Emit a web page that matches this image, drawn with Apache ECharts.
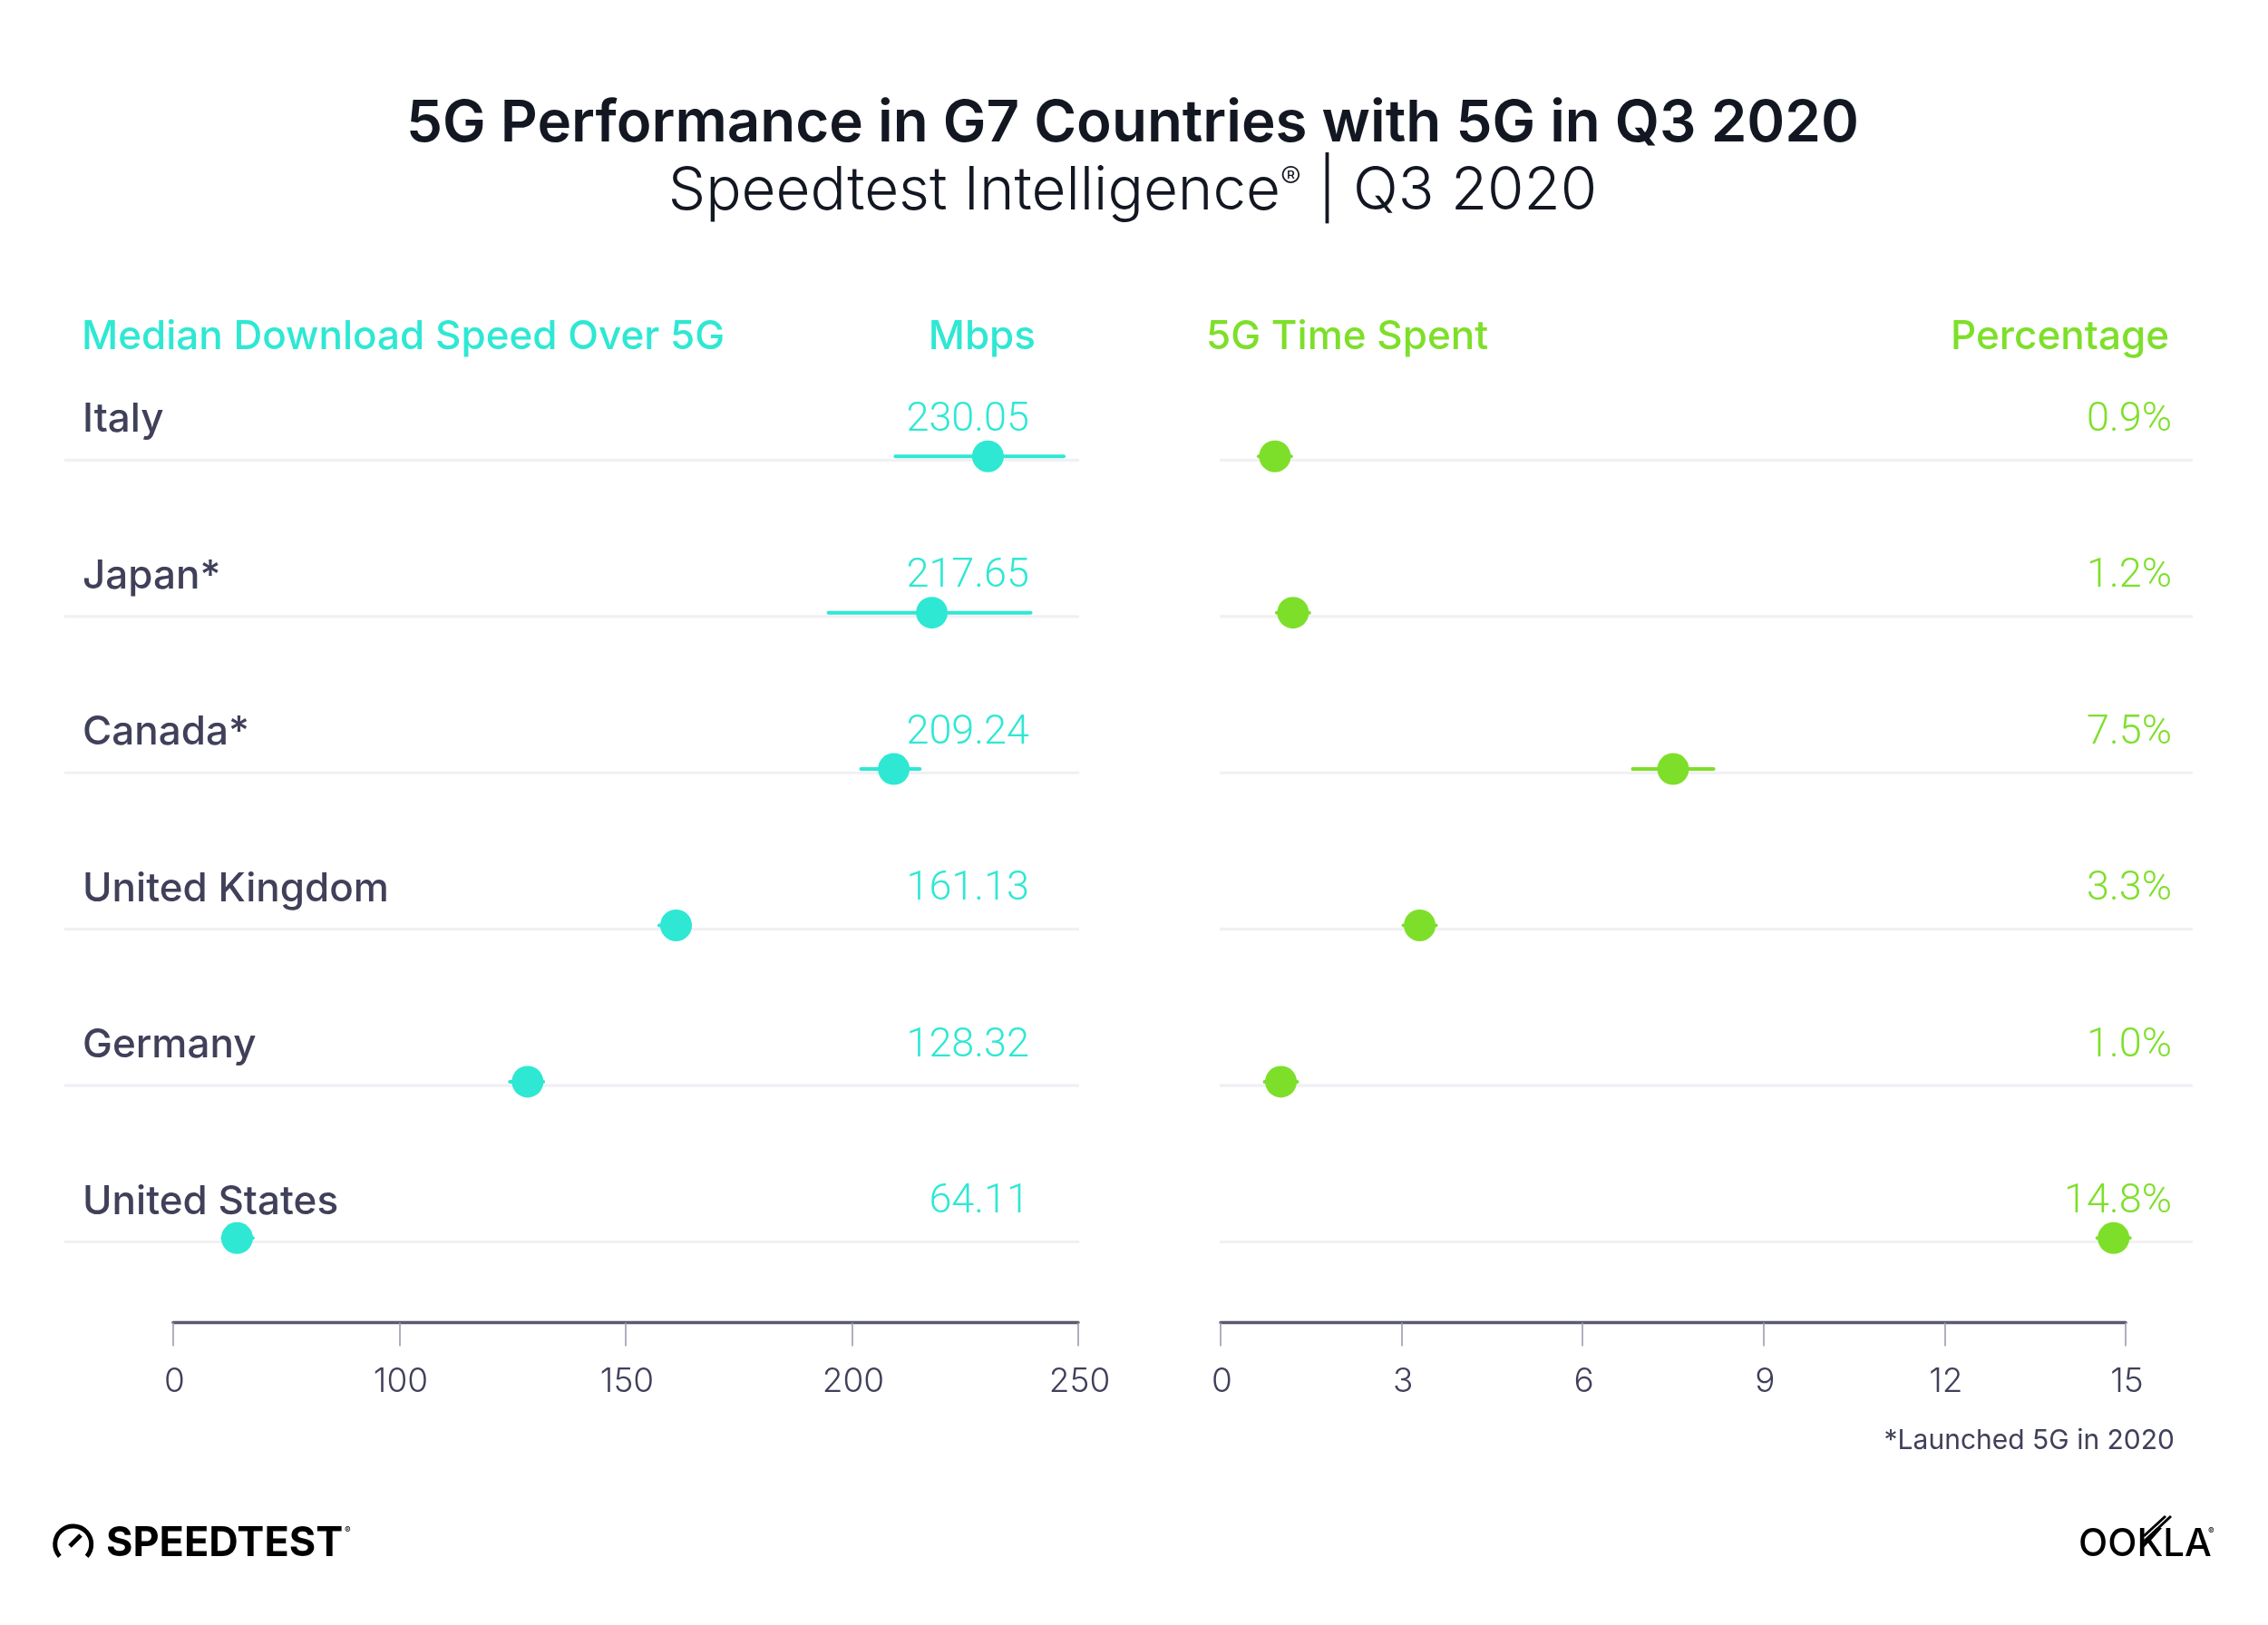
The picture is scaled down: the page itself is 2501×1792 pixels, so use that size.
<!DOCTYPE html>
<html>
<head>
<meta charset="utf-8">
<script src="https://cdn.jsdelivr.net/npm/echarts@6/dist/echarts.min.js"></script>
<style>html,body{margin:0;padding:0;background:#fff}#c{width:2501px;height:1792px}</style>
</head>
<body>
<div id="c"></div>
<script>
const countries = ["Italy", "Japan*", "Canada*", "United Kingdom", "Germany", "United States"];
const speedValues = [230.05, 217.65, 209.24, 161.13, 128.32, 64.11];
const speedLow = [209.2, 194.4, 201.6, 157.0, 124.0, 60.5];
const speedHigh = [247.2, 239.9, 215.4, 164.6, 132.2, 68.0];
const timeValues = [0.9, 1.2, 7.5, 3.3, 1.0, 14.8];
const timeLow = [0.6, 0.9, 6.8, 3.0, 0.7, 14.5];
const timeHigh = [1.2, 1.5, 8.2, 3.6, 1.3, 15.1];
const speedTickLabels = {50: "0", 100: "100", 150: "150", 200: "200", 250: "250"};
const timeTicks = [0, 3, 6, 9, 12, 15];

const FONT = 'Inter, sans-serif';
const TEAL = '#2ee8d3', GREEN = '#7edf2a', INK = '#40405a', DARK = '#131722';

function rowSeries(xi, color, vals, low, high, fmt, sepL, sepR, valR, names) {
  const base = {xAxisIndex: xi, yAxisIndex: xi};
  return [
    Object.assign({}, base, {
      type: 'custom', z: 1, clip: false, silent: true,
      data: vals.map((v, i) => [low[i], i]),
      encode: {x: 0, y: 1},
      renderItem(p, api) {
        const i = api.value(1);
        const y = api.coord([api.value(0), i])[1];
        const kids = [
          {type: 'line', shape: {x1: sepL, y1: y + 4.2, x2: sepR, y2: y + 4.2},
           style: {stroke: '#f0f0f5', lineWidth: 3.2}},
          {type: 'text', style: {x: valR, y: y - 39.5, text: fmt(vals[i]), align: 'right', verticalAlign: 'middle',
           fill: color, font: '300 45px Roboto, sans-serif'}}
        ];
        if (names) kids.push({type: 'text', style: {x: 91, y: y - 40, text: names[i], align: 'left', verticalAlign: 'middle',
           fill: INK, font: '500 44px ' + FONT}});
        return {type: 'group', children: kids};
      }
    }),
    Object.assign({}, base, {
      type: 'custom', z: 2, clip: false, silent: true,
      data: low.map((v, i) => [v, high[i], i]),
      encode: {x: [0, 1], y: 2},
      renderItem(p, api) {
        const a = api.coord([api.value(0), api.value(2)]);
        const b = api.coord([api.value(1), api.value(2)]);
        return {type: 'line', shape: {x1: a[0] + 2, y1: a[1], x2: b[0] - 2, y2: b[1]},
          style: {stroke: color, lineWidth: 4, lineCap: 'round'}};
      }
    }),
    Object.assign({}, base, {
      type: 'scatter', z: 3, symbol: 'circle', symbolSize: 35, silent: true,
      itemStyle: {color: color, opacity: 1},
      data: vals.map((v, i) => [v, i])
    })
  ];
}

function axisX(idx, min, max, interval, fmt) {
  return {
    gridIndex: idx, type: 'value', min, max, interval, position: 'bottom', offset: 7,
    axisLine: {show: true, onZero: false, lineStyle: {color: '#5a5a70', width: 3.4}},
    axisTick: {show: true, length: 26, lineStyle: {color: '#9a9cb0', width: 1.6}},
    splitLine: {show: false},
    axisLabel: {show: true, color: INK, fontFamily: FONT, fontWeight: 300, fontSize: 37, margin: 47,
      padding: [0, 0, 0, 3], hideOverlap: false, showMinLabel: true, showMaxLabel: true, formatter: fmt}
  };
}

function txt(x, y, text, font, fill, align) {
  return {type: 'text', z: 10, silent: true,
    style: {x, y, text, font: font + ' ' + FONT, fill, align: align || 'left', verticalAlign: 'middle'}};
}

const chart = echarts.init(document.getElementById('c'), null, {renderer: 'canvas', width: 2501, height: 1792});
chart.setOption({
  animation: false,
  backgroundColor: '#ffffff',
  title: [
    {text: '5G Performance in G7 Countries with 5G in Q3 2020', left: 1244, top: 100, textAlign: 'center',
     textStyle: {fontFamily: FONT, fontWeight: 600, fontSize: 63.7, color: DARK}},
    {text: 'Speedtest Intelligence{r|®} | Q3 2020', left: 1244, top: 173, textAlign: 'center',
     textStyle: {fontFamily: FONT, fontWeight: 300, fontSize: 65.5, color: DARK,
       rich: {r: {fontFamily: FONT, fontWeight: 300, fontSize: 34, color: DARK, padding: [0, 0, 26, 0]}}}}
  ],
  grid: [
    {left: 191, right: 1312, top: 417, height: 1034.5},
    {left: 1346, right: 157, top: 417, height: 1034.5}
  ],
  xAxis: [
    axisX(0, 50, 250, 50, v => speedTickLabels[v]),
    axisX(1, timeTicks[0], timeTicks[timeTicks.length - 1], timeTicks[1] - timeTicks[0], v => String(v))
  ],
  yAxis: [
    {gridIndex: 0, type: 'category', inverse: true, data: countries, show: false},
    {gridIndex: 1, type: 'category', inverse: true, data: countries, show: false}
  ],
  series: [].concat(
    rowSeries(0, TEAL, speedValues, speedLow, speedHigh, v => v.toFixed(2), 71, 1190, 1135, countries),
    rowSeries(1, GREEN, timeValues, timeLow, timeHigh, v => v.toFixed(1) + '%', 1345, 2418, 2395, null)
  ),
  graphic: [
    txt(90, 372, 'Median Download Speed Over 5G', '500 44px', TEAL),
    txt(1142, 372, 'Mbps', '500 44px', TEAL, 'right'),
    txt(1330, 372, '5G Time Spent', '500 44px', GREEN),
    txt(2392, 372, 'Percentage', '500 44px', GREEN, 'right'),
    txt(2398, 1589, '*Launched 5G in 2020', '400 30px', INK, 'right'),
    txt(117, 1702, 'SPEEDTEST', '700 45px', '#000'),
    txt(380, 1688, '®', '400 10px', '#000'),
    {type: 'arc', z: 10, silent: true, shape: {cx: 80.7, cy: 1703, r: 20, startAngle: 2.41, endAngle: 0.73, clockwise: true},
     style: {stroke: '#000', lineWidth: 5, fill: 'none', lineCap: 'butt'}},
    {type: 'line', z: 10, silent: true, shape: {x1: 77, y1: 1705, x2: 89, y2: 1693},
     style: {stroke: '#000', lineWidth: 5}},
    txt(2292, 1703, 'OOKLA', '500 42px', '#000'),
    {type: 'line', z: 10, silent: true, shape: {x1: 2364, y1: 1700, x2: 2394, y2: 1672}, style: {stroke: '#000', lineWidth: 3}},
    {type: 'line', z: 10, silent: true, shape: {x1: 2364, y1: 1694, x2: 2388, y2: 1672}, style: {stroke: '#000', lineWidth: 3}},
    txt(2435, 1689, '®', '400 10px', '#000')
  ]
});
</script>
</body>
</html>
